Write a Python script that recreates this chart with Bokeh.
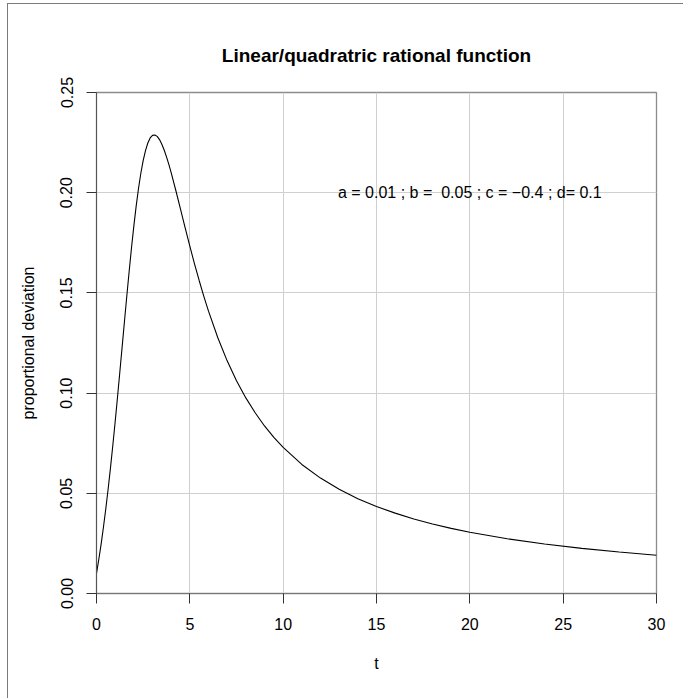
from bokeh.plotting import figure
from bokeh.models import Label, Range1d, FixedTicker
from bokeh.embed import file_html
from bokeh.resources import INLINE

# values
t_vals = [0, 0.125, 0.25, 0.375, 0.5, 0.625, 0.75, 0.875, 1, 1.125, 1.25, 1.375, 1.5, 1.625,
          1.75, 1.875, 2, 2.125, 2.25, 2.375, 2.5, 2.625, 2.75, 2.875, 3, 3.125, 3.25, 3.375,
          3.5, 3.625, 3.75, 3.875, 4, 4.25, 4.5, 4.75, 5, 5.25, 5.5, 5.75, 6, 6.5, 7, 7.5,
          8, 8.5, 9, 9.5, 10, 11, 12, 13, 14, 15, 16, 17, 18, 19, 20, 22, 24, 26, 28, 30]
dev_vals = [0.0100, 0.0171, 0.0248, 0.0333, 0.0424, 0.0523, 0.0628, 0.0740, 0.0857, 0.0979,
            0.1105, 0.1232, 0.1360, 0.1486, 0.1608, 0.1725, 0.1833, 0.1933, 0.2021, 0.2097,
            0.2160, 0.2210, 0.2248, 0.2273, 0.2286, 0.2288, 0.2281, 0.2265, 0.2242, 0.2213,
            0.2179, 0.2141, 0.2100, 0.2011, 0.1918, 0.1825, 0.1733, 0.1645, 0.1562, 0.1483,
            0.1409, 0.1276, 0.1161, 0.1062, 0.0976, 0.0902, 0.0836, 0.0779, 0.0729, 0.0644,
            0.0576, 0.0520, 0.0473, 0.0434, 0.0401, 0.0372, 0.0347, 0.0325, 0.0306, 0.0273,
            0.0247, 0.0225, 0.0207, 0.0191]

x_ticks = [0, 5, 10, 15, 20, 25, 30]
y_ticks = [0.0, 0.05, 0.10, 0.15, 0.20, 0.25]
y_tick_labels = ["0.00", "0.05", "0.10", "0.15", "0.20", "0.25"]

title_text = "Linear/quadratric rational function"
x_label = "t"
y_label = "proportional deviation"
note_text = "a = 0.01 ; b = \u00a00.05 ; c = \u22120.4 ; d= 0.1"
note_x = 20
note_y = 0.20

FONT = "Liberation Sans"

p = figure(width=676, height=695, output_backend="svg", toolbar_location=None,
           x_range=Range1d(0, 30), y_range=Range1d(0, 0.25),
           min_border_left=88, min_border_top=88, min_border_right=28, min_border_bottom=106)
p.styles = {"border-left": "1px solid #7a7a7a", "border-top": "1px solid #7a7a7a",
            "margin-top": "3px", "margin-left": "7px"}

p.title.text = title_text
p.title.align = "center"
p.title.text_font = FONT
p.title.text_font_size = "19px"
p.title.text_font_style = "bold"
p.title.text_color = "black"
p.title.standoff = 54

p.outline_line_color = "#8c8c8c"
p.outline_line_width = 1.3

p.xaxis.ticker = FixedTicker(ticks=x_ticks, minor_ticks=[])
p.yaxis.ticker = FixedTicker(ticks=y_ticks, minor_ticks=[])
p.yaxis.major_label_overrides = {v: s for v, s in zip(y_ticks, y_tick_labels)}
p.yaxis.major_label_orientation = "vertical"

for ax in (p.xaxis, p.yaxis):
    ax.major_tick_in = 0
    ax.major_tick_out = 10
    ax.major_tick_line_color = "#333333"
    ax.minor_tick_line_color = None
    ax.major_label_text_font = FONT
    ax.major_label_text_font_size = "16px"
    ax.major_label_text_color = "black"
    ax.axis_label_text_font = FONT
    ax.axis_label_text_font_size = "16px"
    ax.axis_label_text_font_style = "normal"
    ax.axis_label_text_color = "black"

p.xaxis.axis_line_color = "#777777"
p.yaxis.axis_line_color = "#555555"
p.xaxis.major_label_standoff = 14
p.yaxis.major_label_standoff = 14
p.xaxis.axis_label = x_label
p.yaxis.axis_label = y_label
p.xaxis.axis_label_standoff = 22
p.yaxis.axis_label_standoff = 21

p.xgrid.grid_line_color = "#cfcfcf"
p.ygrid.grid_line_color = "#cfcfcf"
p.xgrid.grid_line_width = 1
p.ygrid.grid_line_width = 1

p.line(t_vals, dev_vals, line_color="black", line_width=1.1)

p.add_layout(Label(x=note_x, y=note_y, text=note_text, text_align="center",
                   text_baseline="middle", text_font=FONT, text_font_size="16px",
                   text_color="black"))

open("out.html", "w").write(file_html(p, INLINE))
